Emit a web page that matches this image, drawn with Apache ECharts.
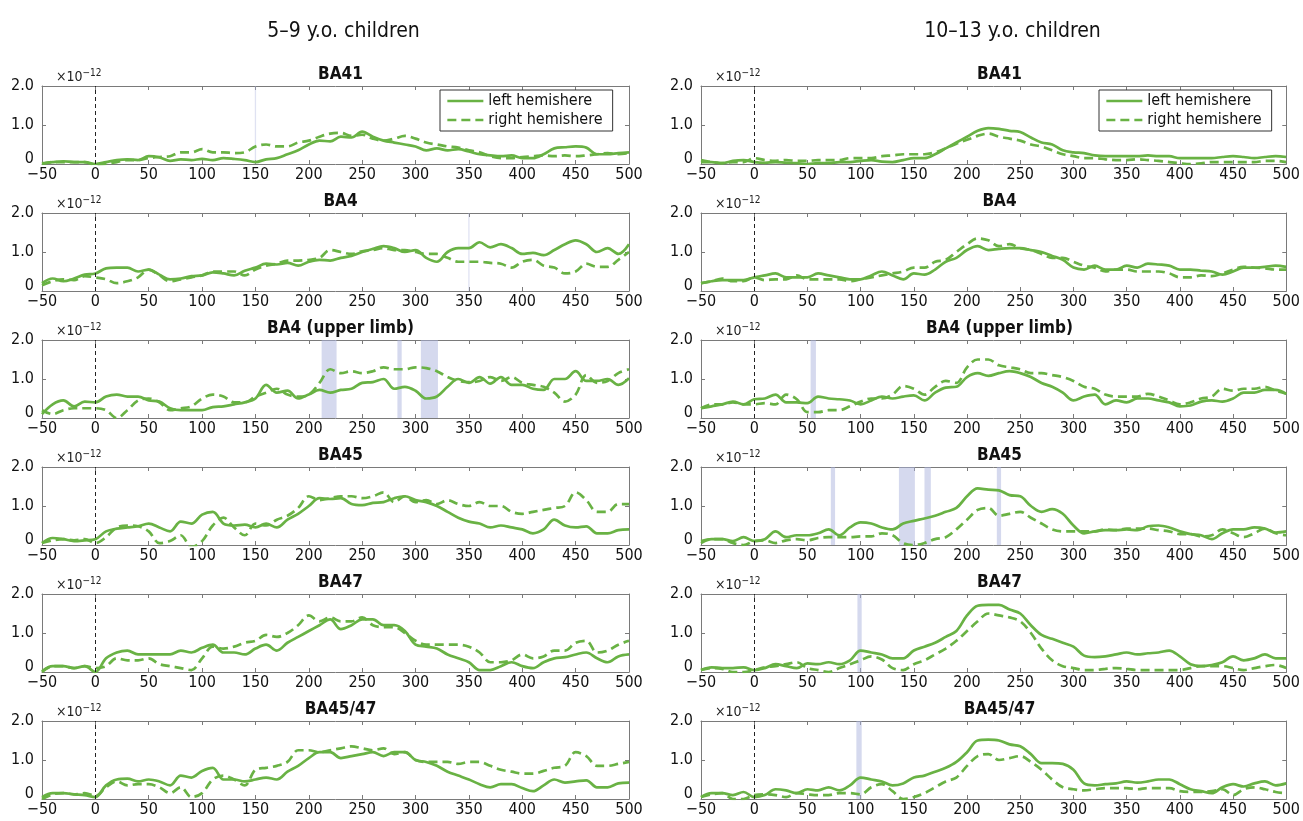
<!DOCTYPE html>
<html>
<head>
<meta charset="utf-8">
<script src="https://cdn.jsdelivr.net/npm/echarts@6/dist/echarts.min.js"></script>
<style>html,body{margin:0;padding:0;background:#fff}#chart{width:1303px;height:821px}</style>
</head>
<body>
<div id="chart"></div>
<script>
// time axis, ms
const times = [-50,-40,-30,-20,-10,0,10,20,30,40,50,60,70,80,90,100,110,120,130,140,150,160,170,180,190,200,210,220,230,240,250,260,270,280,290,300,310,320,330,340,350,360,370,380,390,400,410,420,430,440,450,460,470,480,490,500];
const xTicks = [-50,0,50,100,150,200,250,300,350,400,450,500];
const yTicks = [0,1,2];
const columnTitles = ['5–9 y.o. children','10–13 y.o. children'];
const regionTitles = ['BA41','BA4','BA4 (upper limb)','BA45','BA47','BA45/47'];
const legendNames = ['left hemishere','right hemishere'];

// 5–9 y.o. (×10^-12)
const young_BA41_left  = [0.02,0.05,0.07,0.05,0.05,0.0, 0.05,0.1,0.12,0.1,0.2,0.17,0.08,0.12,0.1,0.13, 0.1,0.15,0.13,0.1,0.05,0.12,0.15,0.25,0.35,0.5, 0.6,0.58,0.7,0.68,0.83,0.7,0.6,0.55,0.5,0.45, 0.35,0.4,0.35,0.38,0.32,0.25,0.22,0.2,0.22,0.15, 0.15,0.25,0.4,0.43,0.45,0.42,0.25,0.25,0.28,0.3];
const young_BA41_right = [0.0,0.05,0.05,0.05,0.05,-0.02, 0.0,0.05,0.1,0.1,0.15,0.18,0.2,0.3,0.3,0.38, 0.3,0.3,0.28,0.3,0.45,0.5,0.45,0.45,0.55,0.6, 0.7,0.78,0.8,0.72,0.75,0.65,0.6,0.65,0.72,0.65, 0.55,0.5,0.45,0.42,0.35,0.3,0.2,0.15,0.15,0.18, 0.2,0.22,0.2,0.22,0.2,0.22,0.25,0.28,0.25,0.28];
const young_BA4_left   = [0.2,0.32,0.25,0.32,0.42,0.45, 0.58,0.6,0.6,0.5,0.55,0.42,0.3,0.32,0.38,0.4, 0.48,0.45,0.4,0.52,0.6,0.7,0.68,0.72,0.65,0.75, 0.8,0.78,0.85,0.9,1.0,1.08,1.15,1.1,1.0,1.05, 0.85,0.75,1.0,1.1,1.1,1.25,1.12,1.2,1.1,0.95, 0.98,0.92,1.05,1.2,1.3,1.2,1.0,1.1,0.95,1.2];
const young_BA4_right  = [0.15,0.25,0.3,0.28,0.38,0.35, 0.3,0.2,0.25,0.35,0.55,0.4,0.25,0.3,0.35,0.4, 0.5,0.5,0.5,0.4,0.55,0.65,0.7,0.78,0.78,0.8, 0.85,1.05,1.0,0.95,1.02,1.05,1.1,1.05,1.05,1.0, 0.95,0.95,0.85,0.75,0.75,0.75,0.72,0.7,0.6,0.75, 0.8,0.65,0.6,0.45,0.5,0.7,0.62,0.62,0.8,1.0];
const young_BA4U_left  = [0.1,0.35,0.45,0.3,0.42,0.4, 0.55,0.6,0.55,0.55,0.45,0.42,0.25,0.2,0.2,0.2, 0.28,0.3,0.35,0.4,0.5,0.85,0.65,0.7,0.5,0.6, 0.72,0.65,0.72,0.75,0.9,0.92,1.0,0.75,0.8,0.7, 0.5,0.55,0.8,1.0,0.9,1.05,0.88,1.05,0.85,0.85, 0.75,0.72,1.0,1.0,1.2,0.95,0.95,1.0,0.85,1.02];
const young_BA4U_right = [0.2,0.1,0.2,0.25,0.25,0.25, 0.2,0.0,0.2,0.45,0.5,0.4,0.2,0.25,0.3,0.5, 0.6,0.55,0.4,0.4,0.55,0.65,0.75,0.6,0.55,0.6, 0.9,1.25,1.15,1.2,1.15,1.2,1.3,1.25,1.25,1.3, 1.28,1.2,1.05,0.95,0.92,0.95,1.05,0.95,1.05,0.9, 0.85,0.8,0.65,0.42,0.6,1.1,0.9,0.95,1.15,1.25];
const young_BA45_left  = [0.05,0.18,0.15,0.1,0.12,0.15, 0.35,0.42,0.45,0.48,0.55,0.45,0.35,0.6,0.55,0.78, 0.85,0.55,0.5,0.52,0.45,0.55,0.45,0.65,0.8,1.0, 1.2,1.18,1.2,1.05,1.02,1.08,1.1,1.2,1.25,1.15, 1.1,1.0,0.85,0.7,0.6,0.55,0.45,0.5,0.45,0.4, 0.3,0.4,0.65,0.5,0.45,0.48,0.3,0.3,0.38,0.4];
const young_BA45_right = [0.05,0.12,0.15,0.12,0.15,0.05, 0.2,0.45,0.5,0.48,0.35,0.05,0.1,0.25,-0.05,0.1, 0.5,0.7,0.45,0.25,0.55,0.5,0.65,0.75,0.95,1.25, 1.15,1.2,1.25,1.25,1.2,1.25,1.35,1.1,1.25,1.1, 1.15,1.05,1.15,1.05,1.0,1.1,1.0,1.0,0.85,0.8, 0.85,0.9,0.95,1.0,1.35,1.15,0.85,0.85,1.05,1.05];
const young_BA47_left  = [0.02,0.15,0.15,0.1,0.15,0.0, 0.35,0.5,0.55,0.45,0.45,0.45,0.45,0.55,0.5,0.62, 0.7,0.5,0.5,0.45,0.6,0.7,0.55,0.75,0.9,1.05, 1.2,1.35,1.1,1.2,1.35,1.35,1.2,1.2,1.05,0.7, 0.65,0.6,0.45,0.35,0.25,0.05,0.05,0.15,0.25,0.15, 0.1,0.25,0.35,0.38,0.45,0.5,0.35,0.25,0.4,0.45];
const young_BA47_right = [0.0,0.15,0.15,0.1,0.15,0.1, 0.15,0.35,0.3,0.3,0.35,0.2,0.15,0.1,0.05,0.35, 0.65,0.6,0.65,0.75,0.8,0.95,0.9,1.0,1.2,1.45, 1.3,1.4,1.3,1.3,1.4,1.2,1.15,1.15,1.0,0.8, 0.7,0.7,0.7,0.7,0.65,0.5,0.25,0.25,0.3,0.45, 0.35,0.4,0.55,0.55,0.75,0.8,0.5,0.55,0.7,0.8];
const young_BA4547_left  = [0.05,0.15,0.15,0.12,0.1,0.05, 0.35,0.5,0.52,0.45,0.5,0.45,0.35,0.6,0.55,0.72, 0.8,0.5,0.5,0.45,0.5,0.55,0.5,0.7,0.85,1.05, 1.2,1.2,1.05,1.1,1.15,1.2,1.1,1.2,1.2,1.0, 0.95,0.85,0.7,0.6,0.5,0.38,0.3,0.38,0.38,0.28, 0.2,0.35,0.5,0.42,0.45,0.48,0.3,0.3,0.4,0.42];
const young_BA4547_right = [0.0,0.12,0.15,0.12,0.15,0.08, 0.3,0.45,0.35,0.38,0.38,0.3,0.15,0.3,0.05,0.15, 0.5,0.6,0.5,0.35,0.75,0.8,0.85,0.95,1.25,1.25, 1.2,1.25,1.3,1.35,1.3,1.25,1.3,1.15,1.2,1.0, 0.95,0.95,0.95,0.9,0.95,0.95,0.85,0.75,0.7,0.65, 0.65,0.72,0.8,0.85,1.2,1.1,0.85,0.85,0.9,0.95];

// 10–13 y.o. (×10^-12)
const older_BA41_left  = [0.05,0.05,0.02,0.08,0.1,0.05, 0.03,0.05,0.03,0.02,0.0,0.02,0.02,0.05,0.05,0.08, 0.1,0.06,0.05,0.1,0.15,0.15,0.25,0.4,0.55,0.7, 0.85,0.92,0.9,0.85,0.82,0.68,0.55,0.5,0.35,0.3, 0.28,0.22,0.2,0.2,0.2,0.2,0.22,0.2,0.2,0.15, 0.15,0.15,0.15,0.18,0.2,0.18,0.15,0.18,0.2,0.18];
const older_BA41_right = [0.1,0.05,0.02,0.05,0.05,0.15, 0.1,0.08,0.1,0.08,0.08,0.1,0.1,0.1,0.15,0.15, 0.15,0.2,0.22,0.25,0.25,0.25,0.3,0.4,0.52,0.62, 0.72,0.78,0.7,0.65,0.6,0.5,0.45,0.35,0.25,0.2, 0.15,0.15,0.12,0.1,0.1,0.12,0.1,0.08,0.05,0.02, 0.0,0.02,0.05,0.05,0.05,0.05,0.05,0.08,0.08,0.05];
const older_BA4_left   = [0.2,0.25,0.28,0.28,0.28,0.35, 0.4,0.45,0.35,0.35,0.35,0.45,0.4,0.35,0.3,0.3, 0.4,0.5,0.4,0.3,0.45,0.42,0.55,0.75,0.85,1.05, 1.15,1.05,1.08,1.1,1.1,1.05,1.0,0.9,0.8,0.6, 0.55,0.65,0.55,0.55,0.65,0.6,0.7,0.68,0.65,0.55, 0.55,0.52,0.5,0.42,0.5,0.6,0.6,0.62,0.65,0.62];
const older_BA4_right  = [0.2,0.25,0.32,0.25,0.25,0.35, 0.28,0.3,0.3,0.4,0.3,0.3,0.3,0.3,0.25,0.3, 0.35,0.4,0.45,0.5,0.6,0.6,0.75,0.8,1.0,1.2, 1.35,1.3,1.15,1.2,1.1,1.05,0.95,0.85,0.85,0.75, 0.65,0.6,0.5,0.55,0.55,0.5,0.5,0.5,0.45,0.35, 0.35,0.4,0.38,0.45,0.55,0.62,0.6,0.58,0.55,0.55];
const older_BA4U_left  = [0.25,0.3,0.35,0.42,0.35,0.48, 0.5,0.6,0.4,0.4,0.38,0.55,0.5,0.48,0.45,0.35, 0.45,0.55,0.5,0.55,0.58,0.45,0.65,0.78,0.8,1.05, 1.15,1.08,1.15,1.2,1.15,1.05,0.9,0.8,0.65,0.45, 0.55,0.6,0.35,0.45,0.4,0.5,0.5,0.45,0.4,0.3, 0.32,0.42,0.45,0.42,0.5,0.65,0.65,0.72,0.72,0.62];
const older_BA4U_right = [0.25,0.35,0.35,0.4,0.35,0.35, 0.38,0.35,0.6,0.48,0.15,0.15,0.2,0.2,0.3,0.42, 0.5,0.5,0.6,0.82,0.75,0.6,0.8,0.95,0.9,1.3, 1.5,1.5,1.35,1.3,1.25,1.15,1.15,1.1,1.05,0.95, 0.8,0.75,0.6,0.55,0.55,0.55,0.62,0.55,0.45,0.35, 0.4,0.5,0.55,0.75,0.7,0.75,0.75,0.8,0.7,0.62];
const older_BA45_left  = [0.1,0.15,0.15,0.1,0.2,0.1, 0.15,0.35,0.2,0.25,0.25,0.3,0.4,0.25,0.45,0.58, 0.55,0.45,0.4,0.55,0.62,0.68,0.75,0.85,0.95,1.25, 1.45,1.42,1.4,1.28,1.25,1.0,0.85,0.92,0.8,0.5, 0.3,0.35,0.38,0.38,0.4,0.38,0.48,0.5,0.45,0.35, 0.28,0.25,0.15,0.3,0.4,0.4,0.45,0.42,0.32,0.35];
const older_BA45_right = [0.05,0.15,0.15,0.05,0.0,0.1, 0.12,0.05,0.12,0.15,0.12,0.18,0.2,0.2,0.2,0.22, 0.22,0.3,0.25,0.05,0.0,0.05,0.15,0.2,0.4,0.65, 0.9,0.95,0.75,0.8,0.85,0.7,0.55,0.4,0.35,0.35, 0.35,0.35,0.4,0.38,0.42,0.42,0.42,0.38,0.35,0.28, 0.28,0.22,0.25,0.4,0.3,0.2,0.3,0.42,0.3,0.25];
const older_BA47_left  = [0.05,0.12,0.1,0.1,0.12,0.05, 0.1,0.2,0.15,0.1,0.22,0.2,0.25,0.2,0.3,0.55, 0.5,0.45,0.35,0.35,0.55,0.65,0.75,0.9,1.05,1.45, 1.7,1.72,1.72,1.6,1.5,1.2,0.95,0.85,0.75,0.65, 0.42,0.38,0.4,0.45,0.5,0.45,0.48,0.5,0.55,0.4, 0.2,0.15,0.18,0.25,0.4,0.3,0.35,0.45,0.35,0.35];
const older_BA47_right = [0.05,0.1,0.08,0.0,0.0,0.05, 0.12,0.15,0.2,0.25,0.1,0.05,0.0,0.1,0.2,0.3, 0.4,0.32,0.1,0.05,0.2,0.3,0.45,0.6,0.8,1.05, 1.3,1.5,1.45,1.4,1.3,1.0,0.6,0.3,0.15,0.1, 0.05,0.05,0.08,0.1,0.08,0.05,0.05,0.05,0.05,0.05, 0.1,0.15,0.15,0.15,0.1,0.05,0.1,0.15,0.18,0.1];
const older_BA4547_left  = [0.05,0.15,0.15,0.1,0.18,0.05, 0.1,0.25,0.22,0.15,0.25,0.22,0.3,0.22,0.35,0.55, 0.5,0.45,0.35,0.4,0.55,0.6,0.7,0.8,0.95,1.2, 1.5,1.52,1.5,1.4,1.35,1.15,0.92,0.92,0.9,0.75, 0.4,0.35,0.38,0.4,0.45,0.42,0.45,0.5,0.5,0.38, 0.25,0.2,0.15,0.3,0.38,0.32,0.4,0.45,0.35,0.4];
const older_BA4547_right = [0.05,0.12,0.15,0.0,0.0,0.1, 0.12,0.1,0.05,0.15,0.12,0.1,0.1,0.15,0.15,0.12, 0.3,0.38,0.2,0.0,0.05,0.15,0.3,0.45,0.55,0.85, 1.1,1.15,1.0,1.05,1.1,0.95,0.75,0.5,0.3,0.25, 0.22,0.25,0.28,0.28,0.28,0.25,0.28,0.28,0.28,0.2, 0.18,0.18,0.2,0.25,0.1,0.25,0.3,0.25,0.18,0.15];

// significance intervals (ms)
const young_BA41_bands = [[149.4,150.6]];
const young_BA4_bands = [[349.4,350.6]];
const young_BA4U_bands = [[212,226],[283,287],[305,321]];
const older_BA4U_bands = [[53,58]];
const older_BA45_bands = [[72,76],[136,151],[160,166],[228,232]];
const older_BA47_bands = [[97,101]];
const older_BA4547_bands = [[96,101]];

const panels = [
  {col:0,row:0,left:young_BA41_left,right:young_BA41_right,bands:young_BA41_bands,legend:true},
  {col:0,row:1,left:young_BA4_left,right:young_BA4_right,bands:young_BA4_bands},
  {col:0,row:2,left:young_BA4U_left,right:young_BA4U_right,bands:young_BA4U_bands},
  {col:0,row:3,left:young_BA45_left,right:young_BA45_right,bands:[]},
  {col:0,row:4,left:young_BA47_left,right:young_BA47_right,bands:[]},
  {col:0,row:5,left:young_BA4547_left,right:young_BA4547_right,bands:[]},
  {col:1,row:0,left:older_BA41_left,right:older_BA41_right,bands:[],legend:true},
  {col:1,row:1,left:older_BA4_left,right:older_BA4_right,bands:[]},
  {col:1,row:2,left:older_BA4U_left,right:older_BA4U_right,bands:older_BA4U_bands},
  {col:1,row:3,left:older_BA45_left,right:older_BA45_right,bands:older_BA45_bands},
  {col:1,row:4,left:older_BA47_left,right:older_BA47_right,bands:older_BA47_bands},
  {col:1,row:5,left:older_BA4547_left,right:older_BA4547_right,bands:older_BA4547_bands}
];

const FONT = "'Liberation Sans Narrow','DejaVu Sans Condensed','Liberation Sans',sans-serif";
const GREEN = '#69b244';
const GRID_W = 587, GRID_H = 78;
const colLeft = [42, 701];
const rowTop = r => 86 + 127 * r;

const option = {
  animation: false,
  backgroundColor: '#ffffff',
  title: [], grid: [], xAxis: [], yAxis: [], series: [], legend: []
};

columnTitles.forEach((t, c) => {
  option.title.push({
    text: t, left: colLeft[c] + GRID_W / 2 + (c === 0 ? 3 : 13), top: 16, textAlign: 'center',
    textStyle: {fontFamily: FONT, fontSize: 21, fontWeight: 'normal', color: '#111'}
  });
});

const pair = arr => times.map((t, k) => [t, arr[k]]);
const xFmt = v => (v < 0 ? '\u2212' + Math.abs(v) : String(v));

panels.forEach((p, i) => {
  const gl = colLeft[p.col], gt = rowTop(p.row);
  option.grid.push({left: gl, top: gt, width: GRID_W, height: GRID_H, show: false});
  option.title.push({
    text: regionTitles[p.row], left: gl + GRID_W / 2, top: gt - 25, textAlign: 'center',
    textStyle: {fontFamily: FONT, fontSize: 17, fontWeight: 'bold', color: '#111'}
  });
  option.title.push({
    text: '×10{s|−12}', left: gl + 9, top: gt - 23,
    textStyle: {fontFamily: FONT, fontSize: 14, fontWeight: 'normal', color: '#222',
      rich: {s: {fontFamily: FONT, fontSize: 10, color: '#222', padding: [0, 0, 9, 0]}}}
  });
  const axLine = {show: true, onZero: false, lineStyle: {color: '#7a7a7a', width: 1}};
  const tick = {show: true, inside: true, length: 4, lineStyle: {color: '#7a7a7a'}};
  option.xAxis.push({
    type: 'value', gridIndex: i, position: 'bottom', min: -50, max: 500, interval: 50,
    axisLine: axLine, axisTick: tick, splitLine: {show: false},
    axisLabel: {margin: 3, fontFamily: FONT, fontSize: 16, color: '#111', formatter: xFmt}
  });
  option.xAxis.push({
    type: 'value', gridIndex: i, position: 'top', min: -50, max: 500, interval: 50,
    axisLine: axLine, axisTick: tick, splitLine: {show: false}, axisLabel: {show: false}
  });
  option.yAxis.push({
    type: 'value', gridIndex: i, position: 'left', min: 0, max: 2, interval: 1,
    axisLine: axLine, axisTick: tick, splitLine: {show: false},
    axisLabel: {margin: 8, fontFamily: FONT, fontSize: 16, color: '#111',
      formatter: v => (v === 0 ? '{z|0}' : v.toFixed(1)),
      rich: {z: {fontFamily: FONT, fontSize: 16, color: '#111', padding: [0, 0, 11, 0]}}}
  });
  option.yAxis.push({
    type: 'value', gridIndex: i, position: 'right', min: 0, max: 2, interval: 1,
    axisLine: axLine, axisTick: tick, splitLine: {show: false}, axisLabel: {show: false}
  });
  const xi = 2 * i, yi = 2 * i;
  const faint = p.bands.length === 1 && (p.bands[0][1] - p.bands[0][0]) < 2;
  option.series.push({
    name: legendNames[0], type: 'line', xAxisIndex: xi, yAxisIndex: yi,
    data: pair(p.left), smooth: 0.35, symbol: 'none', clip: true, z: 3,
    lineStyle: {color: GREEN, width: 2.7}, itemStyle: {color: GREEN},
    markArea: {silent: true, itemStyle: {color: faint ? 'rgba(175,182,222,0.4)' : 'rgba(172,180,222,0.5)'},
      data: p.bands.map(b => [{xAxis: b[0]}, {xAxis: b[1]}])},
    markLine: {silent: true, symbol: ['none', 'none'], label: {show: false},
      lineStyle: {color: '#222', type: [4, 3], width: 1}, data: [{xAxis: 0}]}
  });
  option.series.push({
    name: legendNames[1], type: 'line', xAxisIndex: xi, yAxisIndex: yi,
    data: pair(p.right), smooth: 0.35, symbol: 'none', clip: true, z: 3,
    lineStyle: {color: GREEN, width: 2.7, type: [9, 5]}, itemStyle: {color: GREEN}
  });
  if (p.legend) {
    option.legend.push({
      data: legendNames, orient: 'vertical', left: gl + 398, top: gt + 4,
      backgroundColor: '#fff', borderColor: '#333', borderWidth: 1, padding: [3, 10, 3, 6],
      itemGap: 3, itemWidth: 36, itemHeight: 14, selectedMode: false,
      itemStyle: {opacity: 0},
      lineStyle: {width: 2.7},
      textStyle: {fontFamily: FONT, fontSize: 16, color: '#111'}
    });
  }
});

const chart = echarts.init(document.getElementById('chart'), null, {renderer: 'canvas'});
chart.setOption(option);
</script>
</body>
</html>
